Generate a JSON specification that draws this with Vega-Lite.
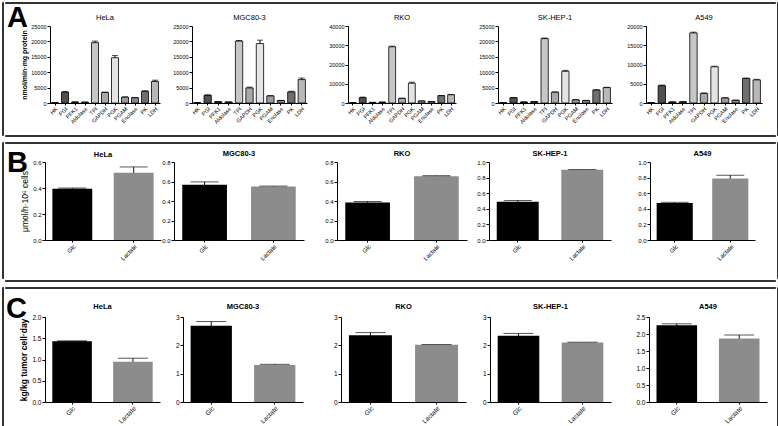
{
  "$schema": "https://vega.github.io/schema/vega-lite/v6.json",
  "background": "white",
  "padding": {"left": 1, "top": 1, "right": 1, "bottom": 1},
  "autosize": {"type": "pad"},
  "spacing": 4,
  "config": {
    "view": {"stroke": null},
    "font": "Liberation Sans",
    "axis": {"grid": false, "domainColor": "#000", "domainWidth": 1, "tickColor": "#000", "tickSize": 3, "labelColor": "#000", "labelFont": "Liberation Sans", "labelFontSize": 6, "labelPadding": 1, "titleColor": "#000", "titleFont": "Liberation Sans", "titleFontWeight": "bold", "titleFontSize": 7, "titlePadding": 3},
    "axisX": {"labelAngle": -45, "tickSize": 2, "title": null},
    "title": {"font": "Liberation Sans", "fontSize": 7.5, "fontWeight": "normal", "color": "#000", "offset": 3, "frame": "group"}
  },
  "datasets": {
    "A": [
      {"cell": "HeLa", "enzyme": "HK", "v": 60, "e": 0},
      {"cell": "HeLa", "enzyme": "PGI", "v": 3550, "e": 150},
      {"cell": "HeLa", "enzyme": "PFK1", "v": 300, "e": 0},
      {"cell": "HeLa", "enzyme": "Aldolase", "v": 250, "e": 0},
      {"cell": "HeLa", "enzyme": "TPI", "v": 19600, "e": 500},
      {"cell": "HeLa", "enzyme": "GAPDH", "v": 3400, "e": 150},
      {"cell": "HeLa", "enzyme": "PGK", "v": 14700, "e": 700},
      {"cell": "HeLa", "enzyme": "PGAM", "v": 1900, "e": 80},
      {"cell": "HeLa", "enzyme": "Enolase", "v": 1700, "e": 50},
      {"cell": "HeLa", "enzyme": "PK", "v": 3800, "e": 150},
      {"cell": "HeLa", "enzyme": "LDH", "v": 7000, "e": 400},
      {"cell": "MGC80-3", "enzyme": "HK", "v": 60, "e": 0},
      {"cell": "MGC80-3", "enzyme": "PGI", "v": 2500, "e": 150},
      {"cell": "MGC80-3", "enzyme": "PFK1", "v": 400, "e": 0},
      {"cell": "MGC80-3", "enzyme": "Aldolase", "v": 300, "e": 0},
      {"cell": "MGC80-3", "enzyme": "TPI", "v": 20100, "e": 200},
      {"cell": "MGC80-3", "enzyme": "GAPDH", "v": 4900, "e": 250},
      {"cell": "MGC80-3", "enzyme": "PGK", "v": 19300, "e": 1100},
      {"cell": "MGC80-3", "enzyme": "PGAM", "v": 2300, "e": 50},
      {"cell": "MGC80-3", "enzyme": "Enolase", "v": 800, "e": 50},
      {"cell": "MGC80-3", "enzyme": "PK", "v": 3600, "e": 200},
      {"cell": "MGC80-3", "enzyme": "LDH", "v": 7600, "e": 500},
      {"cell": "RKO", "enzyme": "HK", "v": 100, "e": 0},
      {"cell": "RKO", "enzyme": "PGI", "v": 2800, "e": 250},
      {"cell": "RKO", "enzyme": "PFK1", "v": 300, "e": 0},
      {"cell": "RKO", "enzyme": "Aldolase", "v": 400, "e": 0},
      {"cell": "RKO", "enzyme": "TPI", "v": 29200, "e": 300},
      {"cell": "RKO", "enzyme": "GAPDH", "v": 2400, "e": 100},
      {"cell": "RKO", "enzyme": "PGK", "v": 10300, "e": 500},
      {"cell": "RKO", "enzyme": "PGAM", "v": 1000, "e": 50},
      {"cell": "RKO", "enzyme": "Enolase", "v": 700, "e": 50},
      {"cell": "RKO", "enzyme": "PK", "v": 3800, "e": 100},
      {"cell": "RKO", "enzyme": "LDH", "v": 4300, "e": 150},
      {"cell": "SK-HEP-1", "enzyme": "HK", "v": 60, "e": 0},
      {"cell": "SK-HEP-1", "enzyme": "PGI", "v": 1700, "e": 100},
      {"cell": "SK-HEP-1", "enzyme": "PFK1", "v": 300, "e": 0},
      {"cell": "SK-HEP-1", "enzyme": "Aldolase", "v": 400, "e": 0},
      {"cell": "SK-HEP-1", "enzyme": "TPI", "v": 20900, "e": 200},
      {"cell": "SK-HEP-1", "enzyme": "GAPDH", "v": 3500, "e": 100},
      {"cell": "SK-HEP-1", "enzyme": "PGK", "v": 10300, "e": 300},
      {"cell": "SK-HEP-1", "enzyme": "PGAM", "v": 1000, "e": 50},
      {"cell": "SK-HEP-1", "enzyme": "Enolase", "v": 800, "e": 50},
      {"cell": "SK-HEP-1", "enzyme": "PK", "v": 4200, "e": 100},
      {"cell": "SK-HEP-1", "enzyme": "LDH", "v": 5000, "e": 100},
      {"cell": "A549", "enzyme": "HK", "v": 60, "e": 0},
      {"cell": "A549", "enzyme": "PGI", "v": 4500, "e": 150},
      {"cell": "A549", "enzyme": "PFK1", "v": 250, "e": 0},
      {"cell": "A549", "enzyme": "Aldolase", "v": 300, "e": 0},
      {"cell": "A549", "enzyme": "TPI", "v": 18200, "e": 200},
      {"cell": "A549", "enzyme": "GAPDH", "v": 2500, "e": 100},
      {"cell": "A549", "enzyme": "PGK", "v": 9400, "e": 150},
      {"cell": "A549", "enzyme": "PGAM", "v": 1300, "e": 50},
      {"cell": "A549", "enzyme": "Enolase", "v": 700, "e": 50},
      {"cell": "A549", "enzyme": "PK", "v": 6400, "e": 50},
      {"cell": "A549", "enzyme": "LDH", "v": 6000, "e": 150}
    ],
    "B": [
      {"cell": "HeLa", "sub": "Glc", "v": 0.395, "e": 0.005},
      {"cell": "HeLa", "sub": "Lactate", "v": 0.518, "e": 0.044},
      {"cell": "MGC80-3", "sub": "Glc", "v": 0.566, "e": 0.03},
      {"cell": "MGC80-3", "sub": "Lactate", "v": 0.548, "e": 0.005},
      {"cell": "RKO", "sub": "Glc", "v": 0.385, "e": 0.01},
      {"cell": "RKO", "sub": "Lactate", "v": 0.655, "e": 0.005},
      {"cell": "SK-HEP-1", "sub": "Glc", "v": 0.49, "e": 0.015},
      {"cell": "SK-HEP-1", "sub": "Lactate", "v": 0.9, "e": 0.004},
      {"cell": "A549", "sub": "Glc", "v": 0.475, "e": 0.008},
      {"cell": "A549", "sub": "Lactate", "v": 0.79, "e": 0.04}
    ],
    "C": [
      {"cell": "HeLa", "sub": "Glc", "v": 1.43, "e": 0.01},
      {"cell": "HeLa", "sub": "Lactate", "v": 0.95, "e": 0.08},
      {"cell": "MGC80-3", "sub": "Glc", "v": 2.69, "e": 0.15},
      {"cell": "MGC80-3", "sub": "Lactate", "v": 1.31, "e": 0.02},
      {"cell": "RKO", "sub": "Glc", "v": 2.36, "e": 0.09},
      {"cell": "RKO", "sub": "Lactate", "v": 2.02, "e": 0.01},
      {"cell": "SK-HEP-1", "sub": "Glc", "v": 2.34, "e": 0.08},
      {"cell": "SK-HEP-1", "sub": "Lactate", "v": 2.1, "e": 0.01},
      {"cell": "A549", "sub": "Glc", "v": 2.26, "e": 0.04},
      {"cell": "A549", "sub": "Lactate", "v": 1.87, "e": 0.1}
    ]
  },
  "vconcat": [
    {
      "spacing": 0,
      "hconcat": [
        {"width": 1, "height": 133, "view": {"fill": "#333", "stroke": "#333", "strokeWidth": 1}, "data": {"values": []}, "mark": "text", "encoding": {}},
        {
          "spacing": 0,
          "vconcat": [
            {"width": 770, "height": 1, "view": {"fill": "#333", "stroke": "#333", "strokeWidth": 1}, "data": {"values": []}, "mark": "text", "encoding": {}},
            {
              "spacing": 0,
              "hconcat": [
                {"width": 1, "height": 1, "data": {"values": []}, "mark": "text", "encoding": {}},
                {
                  "width": 110, "height": 77,
                  "resolve": {"scale": {"x": "independent", "y": "independent"}},
                  "layer": [
                    {
                      "data": {"name": "A"},
                      "transform": [{"filter": "datum.cell === 'HeLa'"}],
                      "encoding": {
                        "x": {"field": "enzyme", "type": "nominal", "sort": null, "scale": {"paddingInner": 0.3, "paddingOuter": 0.15}, "axis": {"labelFontSize": 5.5}},
                        "y": {"field": "v", "type": "quantitative", "scale": {"domain": [0, 25000], "nice": false}, "axis": {"title": "nmol/min·mg protein", "values": [0, 5000, 10000, 15000, 20000, 25000], "format": "d", "labelFontSize": 5.5}}
                      },
                      "layer": [
                        {"mark": {"type": "errorbar", "ticks": {"size": 6}, "color": "#000"}, "encoding": {"yError": {"field": "e"}}},
                        {"mark": {"type": "bar", "stroke": "#000", "strokeWidth": 0.8}, "encoding": {"fill": {"field": "enzyme", "type": "nominal", "scale": {"domain": ["HK", "PGI", "PFK1", "Aldolase", "TPI", "GAPDH", "PGK", "PGAM", "Enolase", "PK", "LDH"], "range": ["#000000", "#505050", "#333333", "#444444", "#c6c6c6", "#a8a8a8", "#e4e4e4", "#9c9c9c", "#8a8a8a", "#6f6f6f", "#b8b8b8"]}, "legend": null}}}
                      ]
                    },
                    {
                      "data": {"values": [{"label": "A"}]},
                      "mark": {"type": "text", "font": "Liberation Sans", "fontSize": 29, "fontWeight": "bold", "align": "left", "baseline": "top", "color": "#000"},
                      "encoding": {
                        "x": {"datum": -0.391, "type": "quantitative", "scale": {"domain": [0, 1], "nice": false, "zero": false}, "axis": null},
                        "y": {"datum": 1.2857, "type": "quantitative", "scale": {"domain": [0, 1], "nice": false, "zero": false}, "axis": null},
                        "text": {"field": "label"}
                      }
                    },
                    {
                      "data": {"values": [{"label": "HeLa"}]},
                      "mark": {"type": "text", "font": "Liberation Sans", "fontSize": 7.5, "fontWeight": "normal", "align": "center", "baseline": "alphabetic", "color": "#000"},
                      "encoding": {
                        "x": {"datum": 0.5, "type": "quantitative", "scale": {"domain": [0, 1], "nice": false, "zero": false}, "axis": null},
                        "y": {"datum": 1.084, "type": "quantitative", "scale": {"domain": [0, 1], "nice": false, "zero": false}, "axis": null},
                        "text": {"field": "label"}
                      }
                    }
                  ]
                },
                {"width": 12, "height": 108, "data": {"values": []}, "mark": "text", "encoding": {}},
                {
                  "width": 115, "height": 77,
                  "title": {"text": "MGC80-3"},
                  "data": {"name": "A"},
                  "transform": [{"filter": "datum.cell === 'MGC80-3'"}],
                  "encoding": {
                    "x": {"field": "enzyme", "type": "nominal", "sort": null, "scale": {"paddingInner": 0.3, "paddingOuter": 0.15}, "axis": {"labelFontSize": 5.5}},
                    "y": {"field": "v", "type": "quantitative", "scale": {"domain": [0, 25000], "nice": false}, "axis": {"title": null, "values": [0, 5000, 10000, 15000, 20000, 25000], "format": "d", "labelFontSize": 5.5}}
                  },
                  "layer": [
                    {"mark": {"type": "errorbar", "ticks": {"size": 6}, "color": "#000"}, "encoding": {"yError": {"field": "e"}}},
                    {"mark": {"type": "bar", "stroke": "#000", "strokeWidth": 0.8}, "encoding": {"fill": {"field": "enzyme", "type": "nominal", "legend": null}}}
                  ]
                },
                {"width": 21, "height": 1, "data": {"values": []}, "mark": "text", "encoding": {}},
                {
                  "width": 108, "height": 77,
                  "title": {"text": "RKO"},
                  "data": {"name": "A"},
                  "transform": [{"filter": "datum.cell === 'RKO'"}],
                  "encoding": {
                    "x": {"field": "enzyme", "type": "nominal", "sort": null, "scale": {"paddingInner": 0.3, "paddingOuter": 0.15}, "axis": {"labelFontSize": 5.5}},
                    "y": {"field": "v", "type": "quantitative", "scale": {"domain": [0, 40000], "nice": false}, "axis": {"title": null, "values": [0, 10000, 20000, 30000, 40000], "format": "d", "labelFontSize": 5.5}}
                  },
                  "layer": [
                    {"mark": {"type": "errorbar", "ticks": {"size": 6}, "color": "#000"}, "encoding": {"yError": {"field": "e"}}},
                    {"mark": {"type": "bar", "stroke": "#000", "strokeWidth": 0.8}, "encoding": {"fill": {"field": "enzyme", "type": "nominal", "legend": null}}}
                  ]
                },
                {"width": 22, "height": 1, "data": {"values": []}, "mark": "text", "encoding": {}},
                {
                  "width": 114, "height": 77,
                  "title": {"text": "SK-HEP-1"},
                  "data": {"name": "A"},
                  "transform": [{"filter": "datum.cell === 'SK-HEP-1'"}],
                  "encoding": {
                    "x": {"field": "enzyme", "type": "nominal", "sort": null, "scale": {"paddingInner": 0.3, "paddingOuter": 0.15}, "axis": {"labelFontSize": 5.5}},
                    "y": {"field": "v", "type": "quantitative", "scale": {"domain": [0, 25000], "nice": false}, "axis": {"title": null, "values": [0, 5000, 10000, 15000, 20000, 25000], "format": "d", "labelFontSize": 5.5}}
                  },
                  "layer": [
                    {"mark": {"type": "errorbar", "ticks": {"size": 6}, "color": "#000"}, "encoding": {"yError": {"field": "e"}}},
                    {"mark": {"type": "bar", "stroke": "#000", "strokeWidth": 0.8}, "encoding": {"fill": {"field": "enzyme", "type": "nominal", "legend": null}}}
                  ]
                },
                {"width": 14, "height": 1, "data": {"values": []}, "mark": "text", "encoding": {}},
                {
                  "width": 116, "height": 77,
                  "title": {"text": "A549"},
                  "data": {"name": "A"},
                  "transform": [{"filter": "datum.cell === 'A549'"}],
                  "encoding": {
                    "x": {"field": "enzyme", "type": "nominal", "sort": null, "scale": {"paddingInner": 0.3, "paddingOuter": 0.15}, "axis": {"labelFontSize": 5.5}},
                    "y": {"field": "v", "type": "quantitative", "scale": {"domain": [0, 20000], "nice": false}, "axis": {"title": null, "values": [0, 5000, 10000, 15000, 20000], "format": "d", "labelFontSize": 5.5}}
                  },
                  "layer": [
                    {"mark": {"type": "errorbar", "ticks": {"size": 6}, "color": "#000"}, "encoding": {"yError": {"field": "e"}}},
                    {"mark": {"type": "bar", "stroke": "#000", "strokeWidth": 0.8}, "encoding": {"fill": {"field": "enzyme", "type": "nominal", "legend": null}}}
                  ]
                }
              ]
            },
            {"width": 770, "height": 1, "view": {"fill": "#333", "stroke": "#333", "strokeWidth": 1}, "data": {"values": []}, "mark": "text", "encoding": {}}
          ]
        },
        {"width": 1, "height": 133, "view": {"fill": "#333", "stroke": "#333", "strokeWidth": 1}, "data": {"values": []}, "mark": "text", "encoding": {}}
      ]
    },
    {
      "spacing": 0,
      "hconcat": [
        {"width": 1, "height": 136, "view": {"fill": "#333", "stroke": "#333", "strokeWidth": 1}, "data": {"values": []}, "mark": "text", "encoding": {}},
        {
          "spacing": 4,
          "vconcat": [
            {"width": 770, "height": 1, "view": {"fill": "#333", "stroke": "#333", "strokeWidth": 1}, "data": {"values": []}, "mark": "text", "encoding": {}},
            {
              "spacing": 0,
              "hconcat": [
                {"width": 1, "height": 1, "data": {"values": []}, "mark": "text", "encoding": {}},
                {
                  "width": 116, "height": 78,
                  "resolve": {"scale": {"x": "independent", "y": "independent"}},
                  "layer": [
                    {
                      "data": {"name": "B"},
                      "transform": [{"filter": "datum.cell === 'HeLa'"}],
                      "encoding": {
                        "x": {"field": "sub", "type": "nominal", "sort": null, "scale": {"paddingInner": 0.35, "paddingOuter": 0.12}},
                        "y": {"field": "v", "type": "quantitative", "scale": {"domain": [0, 0.6], "nice": false}, "axis": {"title": "μmol/h·10⁶ cells", "titleFontWeight": "normal", "titleFontSize": 8.5, "values": [0, 0.2, 0.4, 0.6], "format": ".1f"}}
                      },
                      "layer": [
                        {"mark": {"type": "errorbar", "ticks": {"size": 28}, "color": "#111"}, "encoding": {"yError": {"field": "e"}}},
                        {"mark": {"type": "bar"}, "encoding": {"color": {"condition": {"test": "datum.sub === 'Glc'", "value": "#000000"}, "value": "#8c8c8c"}}}
                      ]
                    },
                    {
                      "data": {"values": [{"label": "B"}]},
                      "mark": {"type": "text", "font": "Liberation Sans", "fontSize": 29, "fontWeight": "bold", "align": "left", "baseline": "top", "color": "#000"},
                      "encoding": {
                        "x": {"datum": -0.328, "type": "quantitative", "scale": {"domain": [0, 1], "nice": false, "zero": false}, "axis": null},
                        "y": {"datum": 1.1667, "type": "quantitative", "scale": {"domain": [0, 1], "nice": false, "zero": false}, "axis": null},
                        "text": {"field": "label"}
                      }
                    },
                    {
                      "data": {"values": [{"label": "HeLa"}]},
                      "mark": {"type": "text", "font": "Liberation Sans", "fontSize": 7.5, "fontWeight": "bold", "align": "center", "baseline": "alphabetic", "color": "#000"},
                      "encoding": {
                        "x": {"datum": 0.5, "type": "quantitative", "scale": {"domain": [0, 1], "nice": false, "zero": false}, "axis": null},
                        "y": {"datum": 1.064, "type": "quantitative", "scale": {"domain": [0, 1], "nice": false, "zero": false}, "axis": null},
                        "text": {"field": "label"}
                      }
                    }
                  ]
                },
                {
                  "width": 130, "height": 78,
                  "title": {"text": "MGC80-3", "fontWeight": "bold", "offset": 2},
                  "data": {"name": "B"},
                  "transform": [{"filter": "datum.cell === 'MGC80-3'"}],
                  "encoding": {
                    "x": {"field": "sub", "type": "nominal", "sort": null, "scale": {"paddingInner": 0.35, "paddingOuter": 0.12}},
                    "y": {"field": "v", "type": "quantitative", "scale": {"domain": [0, 0.8], "nice": false}, "axis": {"title": null, "values": [0, 0.2, 0.4, 0.6, 0.8], "format": ".1f"}}
                  },
                  "layer": [
                    {"mark": {"type": "errorbar", "ticks": {"size": 28}, "color": "#111"}, "encoding": {"yError": {"field": "e"}}},
                    {"mark": {"type": "bar"}, "encoding": {"color": {"condition": {"test": "datum.sub === 'Glc'", "value": "#000000"}, "value": "#8c8c8c"}}}
                  ]
                },
                {"width": 20, "height": 113, "data": {"values": []}, "mark": "text", "encoding": {}},
                {
                  "width": 130, "height": 78,
                  "title": {"text": "RKO", "fontWeight": "bold", "offset": 2},
                  "data": {"name": "B"},
                  "transform": [{"filter": "datum.cell === 'RKO'"}],
                  "encoding": {
                    "x": {"field": "sub", "type": "nominal", "sort": null, "scale": {"paddingInner": 0.35, "paddingOuter": 0.12}},
                    "y": {"field": "v", "type": "quantitative", "scale": {"domain": [0, 0.8], "nice": false}, "axis": {"title": null, "values": [0, 0.2, 0.4, 0.6, 0.8], "format": ".1f"}}
                  },
                  "layer": [
                    {"mark": {"type": "errorbar", "ticks": {"size": 28}, "color": "#111"}, "encoding": {"yError": {"field": "e"}}},
                    {"mark": {"type": "bar"}, "encoding": {"color": {"condition": {"test": "datum.sub === 'Glc'", "value": "#000000"}, "value": "#8c8c8c"}}}
                  ]
                },
                {"width": 9, "height": 1, "data": {"values": []}, "mark": "text", "encoding": {}},
                {
                  "width": 122, "height": 78,
                  "title": {"text": "SK-HEP-1", "fontWeight": "bold", "offset": 2},
                  "data": {"name": "B"},
                  "transform": [{"filter": "datum.cell === 'SK-HEP-1'"}],
                  "encoding": {
                    "x": {"field": "sub", "type": "nominal", "sort": null, "scale": {"paddingInner": 0.35, "paddingOuter": 0.12}},
                    "y": {"field": "v", "type": "quantitative", "scale": {"domain": [0, 1.0], "nice": false}, "axis": {"title": null, "values": [0, 0.2, 0.4, 0.6, 0.8, 1.0], "format": ".1f"}}
                  },
                  "layer": [
                    {"mark": {"type": "errorbar", "ticks": {"size": 28}, "color": "#111"}, "encoding": {"yError": {"field": "e"}}},
                    {"mark": {"type": "bar"}, "encoding": {"color": {"condition": {"test": "datum.sub === 'Glc'", "value": "#000000"}, "value": "#8c8c8c"}}}
                  ]
                },
                {"width": 26, "height": 1, "data": {"values": []}, "mark": "text", "encoding": {}},
                {
                  "width": 105, "height": 78,
                  "title": {"text": "A549", "fontWeight": "bold", "offset": 2},
                  "data": {"name": "B"},
                  "transform": [{"filter": "datum.cell === 'A549'"}],
                  "encoding": {
                    "x": {"field": "sub", "type": "nominal", "sort": null, "scale": {"paddingInner": 0.35, "paddingOuter": 0.12}},
                    "y": {"field": "v", "type": "quantitative", "scale": {"domain": [0, 1.0], "nice": false}, "axis": {"title": null, "values": [0, 0.2, 0.4, 0.6, 0.8, 1.0], "format": ".1f"}}
                  },
                  "layer": [
                    {"mark": {"type": "errorbar", "ticks": {"size": 28}, "color": "#111"}, "encoding": {"yError": {"field": "e"}}},
                    {"mark": {"type": "bar"}, "encoding": {"color": {"condition": {"test": "datum.sub === 'Glc'", "value": "#000000"}, "value": "#8c8c8c"}}}
                  ]
                }
              ]
            },
            {"width": 770, "height": 1, "view": {"fill": "#333", "stroke": "#333", "strokeWidth": 1}, "data": {"values": []}, "mark": "text", "encoding": {}}
          ]
        },
        {"width": 1, "height": 136, "view": {"fill": "#333", "stroke": "#333", "strokeWidth": 1}, "data": {"values": []}, "mark": "text", "encoding": {}}
      ]
    },
    {
      "spacing": 0,
      "hconcat": [
        {"width": 1, "height": 141, "view": {"fill": "#333", "stroke": "#333", "strokeWidth": 1}, "data": {"values": []}, "mark": "text", "encoding": {}},
        {
          "spacing": 6,
          "vconcat": [
            {"width": 770, "height": 1, "view": {"fill": "#333", "stroke": "#333", "strokeWidth": 1}, "data": {"values": []}, "mark": "text", "encoding": {}},
            {
              "spacing": 0,
              "hconcat": [
                {"width": 1, "height": 1, "data": {"values": []}, "mark": "text", "encoding": {}},
                {
                  "width": 115, "height": 85,
                  "resolve": {"scale": {"x": "independent", "y": "independent"}},
                  "layer": [
                    {
                      "data": {"name": "C"},
                      "transform": [{"filter": "datum.cell === 'HeLa'"}],
                      "encoding": {
                        "x": {"field": "sub", "type": "nominal", "sort": null, "scale": {"paddingInner": 0.35, "paddingOuter": 0.12}, "axis": {"labelFontSize": 6.5}},
                        "y": {"field": "v", "type": "quantitative", "scale": {"domain": [0, 2.0], "nice": false}, "axis": {"title": "kg/kg tumor cell·day", "titleFontSize": 8.5, "values": [0, 0.5, 1.0, 1.5, 2.0], "format": ".1f", "labelFontSize": 6.5}}
                      },
                      "layer": [
                        {"mark": {"type": "errorbar", "ticks": {"size": 30}, "color": "#111"}, "encoding": {"yError": {"field": "e"}}},
                        {"mark": {"type": "bar"}, "encoding": {"color": {"condition": {"test": "datum.sub === 'Glc'", "value": "#000000"}, "value": "#8c8c8c"}}}
                      ]
                    },
                    {
                      "data": {"values": [{"label": "C"}]},
                      "mark": {"type": "text", "font": "Liberation Sans", "fontSize": 29, "fontWeight": "bold", "align": "left", "baseline": "top", "color": "#000"},
                      "encoding": {
                        "x": {"datum": -0.339, "type": "quantitative", "scale": {"domain": [0, 1], "nice": false, "zero": false}, "axis": null},
                        "y": {"datum": 1.2588, "type": "quantitative", "scale": {"domain": [0, 1], "nice": false, "zero": false}, "axis": null},
                        "text": {"field": "label"}
                      }
                    },
                    {
                      "data": {"values": [{"label": "HeLa"}]},
                      "mark": {"type": "text", "font": "Liberation Sans", "fontSize": 7.5, "fontWeight": "bold", "align": "center", "baseline": "alphabetic", "color": "#000"},
                      "encoding": {
                        "x": {"datum": 0.5, "type": "quantitative", "scale": {"domain": [0, 1], "nice": false, "zero": false}, "axis": null},
                        "y": {"datum": 1.094, "type": "quantitative", "scale": {"domain": [0, 1], "nice": false, "zero": false}, "axis": null},
                        "text": {"field": "label"}
                      }
                    }
                  ]
                },
                {"width": 15, "height": 105, "data": {"values": []}, "mark": "text", "encoding": {}},
                {
                  "width": 120, "height": 85,
                  "title": {"text": "MGC80-3", "fontWeight": "bold", "offset": 4},
                  "data": {"name": "C"},
                  "transform": [{"filter": "datum.cell === 'MGC80-3'"}],
                  "encoding": {
                    "x": {"field": "sub", "type": "nominal", "sort": null, "scale": {"paddingInner": 0.35, "paddingOuter": 0.12}, "axis": {"labelFontSize": 6.5}},
                    "y": {"field": "v", "type": "quantitative", "scale": {"domain": [0, 3], "nice": false}, "axis": {"title": null, "values": [0, 1, 2, 3], "format": "d", "labelFontSize": 6.5}}
                  },
                  "layer": [
                    {"mark": {"type": "errorbar", "ticks": {"size": 30}, "color": "#111"}, "encoding": {"yError": {"field": "e"}}},
                    {"mark": {"type": "bar"}, "encoding": {"color": {"condition": {"test": "datum.sub === 'Glc'", "value": "#000000"}, "value": "#8c8c8c"}}}
                  ]
                },
                {"width": 30, "height": 1, "data": {"values": []}, "mark": "text", "encoding": {}},
                {
                  "width": 125, "height": 85,
                  "title": {"text": "RKO", "fontWeight": "bold", "offset": 4},
                  "data": {"name": "C"},
                  "transform": [{"filter": "datum.cell === 'RKO'"}],
                  "encoding": {
                    "x": {"field": "sub", "type": "nominal", "sort": null, "scale": {"paddingInner": 0.35, "paddingOuter": 0.12}, "axis": {"labelFontSize": 6.5}},
                    "y": {"field": "v", "type": "quantitative", "scale": {"domain": [0, 3], "nice": false}, "axis": {"title": null, "values": [0, 1, 2, 3], "format": "d", "labelFontSize": 6.5}}
                  },
                  "layer": [
                    {"mark": {"type": "errorbar", "ticks": {"size": 30}, "color": "#111"}, "encoding": {"yError": {"field": "e"}}},
                    {"mark": {"type": "bar"}, "encoding": {"color": {"condition": {"test": "datum.sub === 'Glc'", "value": "#000000"}, "value": "#8c8c8c"}}}
                  ]
                },
                {"width": 16, "height": 1, "data": {"values": []}, "mark": "text", "encoding": {}},
                {
                  "width": 121, "height": 85,
                  "title": {"text": "SK-HEP-1", "fontWeight": "bold", "offset": 4},
                  "data": {"name": "C"},
                  "transform": [{"filter": "datum.cell === 'SK-HEP-1'"}],
                  "encoding": {
                    "x": {"field": "sub", "type": "nominal", "sort": null, "scale": {"paddingInner": 0.35, "paddingOuter": 0.12}, "axis": {"labelFontSize": 6.5}},
                    "y": {"field": "v", "type": "quantitative", "scale": {"domain": [0, 3], "nice": false}, "axis": {"title": null, "values": [0, 1, 2, 3], "format": "d", "labelFontSize": 6.5}}
                  },
                  "layer": [
                    {"mark": {"type": "errorbar", "ticks": {"size": 30}, "color": "#111"}, "encoding": {"yError": {"field": "e"}}},
                    {"mark": {"type": "bar"}, "encoding": {"color": {"condition": {"test": "datum.sub === 'Glc'", "value": "#000000"}, "value": "#8c8c8c"}}}
                  ]
                },
                {"width": 24, "height": 1, "data": {"values": []}, "mark": "text", "encoding": {}},
                {
                  "width": 118, "height": 85,
                  "title": {"text": "A549", "fontWeight": "bold", "offset": 4},
                  "data": {"name": "C"},
                  "transform": [{"filter": "datum.cell === 'A549'"}],
                  "encoding": {
                    "x": {"field": "sub", "type": "nominal", "sort": null, "scale": {"paddingInner": 0.35, "paddingOuter": 0.12}, "axis": {"labelFontSize": 6.5}},
                    "y": {"field": "v", "type": "quantitative", "scale": {"domain": [0, 2.5], "nice": false}, "axis": {"title": null, "values": [0, 0.5, 1.0, 1.5, 2.0, 2.5], "format": ".1f", "labelFontSize": 6.5}}
                  },
                  "layer": [
                    {"mark": {"type": "errorbar", "ticks": {"size": 30}, "color": "#111"}, "encoding": {"yError": {"field": "e"}}},
                    {"mark": {"type": "bar"}, "encoding": {"color": {"condition": {"test": "datum.sub === 'Glc'", "value": "#000000"}, "value": "#8c8c8c"}}}
                  ]
                }
              ]
            },
            {"width": 770, "height": 1, "view": {"fill": "#333", "stroke": "#333", "strokeWidth": 1}, "data": {"values": []}, "mark": "text", "encoding": {}}
          ]
        },
        {"width": 1, "height": 141, "view": {"fill": "#333", "stroke": "#333", "strokeWidth": 1}, "data": {"values": []}, "mark": "text", "encoding": {}}
      ]
    }
  ]
}
